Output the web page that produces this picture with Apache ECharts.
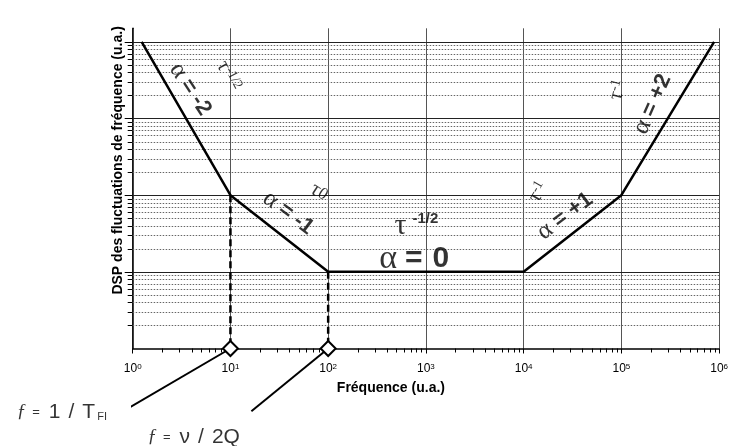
<!DOCTYPE html>
<html><head><meta charset="utf-8">
<script src="https://cdn.jsdelivr.net/npm/echarts@6/dist/echarts.min.js"></script>
<style>html,body{margin:0;padding:0;background:#fff}#c{width:731px;height:446px}</style>
</head><body><div id="c"></div>
<script>
// ---- data ----
const freq = [1.235, 10, 100, 10000, 100000, 889000];   // Fréquence (u.a.)
const dsp  = [10000, 100, 10, 10, 100, 10000];          // DSP (u.a.)
const cornerFreq = [10, 100];
const cornerDsp  = [100, 10];
const xExponents = [0, 1, 2, 3, 4, 5, 6];
const yExponents = [0, 1, 2, 3, 4];
const leaderEnds = [[0.802, 0.1523], [16.38, 0.1523]];
const X_MIN = 1, X_MAX = 1e6, Y_MIN = 1, Y_MAX = 15000;

// text annotations (data coordinates of text centres)
const notes = [
  {x: 3.9,    y: 2400,  rot: -57, txt: '{a|α}{b|=}{b2|-2}'},
  {x: 9.6,    y: 3600,  rot: -62, txt: '{t|τ}{s|-1/2}'},
  {x: 39.1,   y: 58.4,  rot: -37, txt: '{a|α}{b|=}{b2|-1}'},
  {x: 80.9,   y: 109.7, rot: -33, txt: '{t|τ}{t2|0}'},
  {x: 800,    y: 39.5,  rot: 0,   txt: '{T|τ}{sb|-1/2}'},
  {x: 760,    y: 14.6,  rot: 0,   txt: '{A|α}{B|=}{B2|0}'},
  {x: 26550,  y: 53.4,  rot: 37,  txt: '{a|α}{b|=}{b2|+1}'},
  {x: 14090,  y: 109.7, rot: 60,  txt: '{t|τ}{s|-1}'},
  {x: 209000, y: 1541,  rot: 66,  txt: '{a|α}{b|=}{b2|+2}'},
  {x: 92000,  y: 2345,  rot: 75,  txt: '{t|τ}{s|-1}'},
  {x: 0.1883, y: 0.1486, rot: 0,  txt: '{f|ƒ}{e|=}{n|1}{n|/}{n|T}{sub|FI}'},
  {x: 4.21,   y: 0.0702, rot: 0,  txt: '{f|ƒ}{e|=}{n|ν}{n|/}{n2|2Q}'}
];

const SANS = 'Liberation Sans, Arial, sans-serif';
const SERIF = 'Liberation Serif, Times New Roman, serif';
const rich = {
  a:  {fontFamily: SERIF, fontSize: 25, color: '#000', padding: [0, 6, 0, 0]},
  b:  {fontFamily: SANS, fontWeight: 'bold', fontSize: 22, color: '#000', padding: [0, 6, 0, 0]},
  b2: {fontFamily: SANS, fontWeight: 'bold', fontSize: 22, color: '#000'},
  A:  {fontFamily: SERIF, fontSize: 34, color: '#000', padding: [0, 8, 0, 0]},
  B:  {fontFamily: SANS, fontWeight: 'bold', fontSize: 30, color: '#000', padding: [0, 10, 0, 0]},
  B2: {fontFamily: SANS, fontWeight: 'bold', fontSize: 30, color: '#000'},
  t:  {fontFamily: SERIF, fontSize: 21, color: '#000'},
  t2: {fontFamily: SERIF, fontSize: 17, color: '#000'},
  s:  {fontFamily: SERIF, fontSize: 14, color: '#000', verticalAlign: 'top'},
  T:  {fontFamily: SERIF, fontSize: 30, color: '#000', padding: [0, 6, 0, 0]},
  sb: {fontFamily: SANS, fontWeight: 'bold', fontSize: 15, color: '#000', verticalAlign: 'top'},
  f:  {fontFamily: SERIF, fontStyle: 'italic', fontSize: 19, color: '#000', padding: [0, 6, 0, 0]},
  e:  {fontFamily: SANS, fontSize: 13, color: '#000', padding: [0, 9, 0, 0]},
  n:  {fontFamily: SANS, fontSize: 21, color: '#000', padding: [0, 8, 0, 0]},
  n2: {fontFamily: SANS, fontSize: 21, color: '#000'},
  sub:{fontFamily: SANS, fontSize: 11, color: '#000', verticalAlign: 'bottom', padding: [0, 0, 0, -6]}
};

// grid line values built from the axis decades
const hLines = [];
yExponents.forEach(e => {
  for (let m = 1; m <= 9; m++) {
    if (e === 0 && m === 1) continue;
    if (e === 4 && m > 1) break;
    hLines.push([X_MIN, m * Math.pow(10, e), m === 1 ? 1 : 0]);
  }
});
const xMinor = [];
xExponents.slice(0, -1).forEach(e => {
  for (let m = 2; m <= 9; m++) xMinor.push([m * Math.pow(10, e), Y_MIN]);
});

const chart = echarts.init(document.getElementById('c'), null, {renderer: 'canvas'});
chart.setOption({
  animation: false,
  backgroundColor: '#fff',
  grid: {left: 132.7, right: 9.3, top: 28.3, bottom: 97.5, containLabel: false},
  xAxis: {
    type: 'log', logBase: 10, min: X_MIN, max: X_MAX, interval: 1,
    name: 'Fréquence (u.a.)', nameLocation: 'middle', nameGap: 33,
    nameTextStyle: {fontFamily: SANS, fontWeight: 'bold', fontSize: 14, color: '#000', padding: [0, 70, 0, 0]},
    axisLine: {show: true, onZero: false, lineStyle: {color: '#000', width: 1.5}},
    axisTick: {show: true, length: 5, lineStyle: {color: '#000'}},
    axisLabel: {
      margin: 14, color: '#000',
      formatter: v => '{b|10}{s|' + Math.round(Math.log10(v)) + '}',
      rich: {
        b: {fontFamily: SANS, fontSize: 12, color: '#000'},
        s: {fontFamily: SANS, fontSize: 8, color: '#000', verticalAlign: 'top', padding: [0, 0, 4, 0]}
      }
    },
    splitLine: {show: true, lineStyle: {color: '#555', width: 1}}
  },
  yAxis: {
    type: 'log', logBase: 10, min: Y_MIN, max: Y_MAX,
    name: 'DSP des fluctuations de fréquence (u.a.)', nameLocation: 'middle', nameGap: 8,
    nameTextStyle: {fontFamily: SANS, fontWeight: 'bold', fontSize: 14, color: '#000', padding: [0, 0, 0, 56]},
    axisLine: {show: true, onZero: false, lineStyle: {color: '#000', width: 1.5}},
    axisTick: {show: false},
    axisLabel: {show: false},
    splitLine: {show: false}
  },
  series: [
    {
      type: 'custom', coordinateSystem: 'cartesian2d', clip: false, silent: true, z: 1,
      encode: {x: 0, y: 1},
      data: hLines,
      renderItem: (params, api) => {
        const v = api.value(1), major = api.value(2) === 1;
        const a = api.coord([X_MIN, v]), b = api.coord([X_MAX, v]);
        const y = Math.round(a[1]) + 0.5;
        return {type: 'group', children: [
          {type: 'line', shape: {x1: a[0] - (major ? 8 : 5), y1: y, x2: a[0], y2: y}, style: {stroke: '#000', lineWidth: 1}},
          {type: 'line', shape: {x1: a[0], y1: y, x2: b[0], y2: y},
           style: {stroke: major ? '#222' : '#666', lineWidth: 1, lineDash: major ? null : [1.5, 1.5]}}
        ]};
      }
    },
    {
      type: 'custom', coordinateSystem: 'cartesian2d', clip: false, silent: true, z: 1,
      encode: {x: 0, y: 1},
      data: xMinor,
      renderItem: (params, api) => {
        const p = api.coord([api.value(0), api.value(1)]);
        const x = Math.round(p[0]) + 0.5;
        return {type: 'line', shape: {x1: x, y1: p[1], x2: x, y2: p[1] + 4}, style: {stroke: '#000', lineWidth: 1}};
      }
    },
    {
      type: 'line', name: 'DSP', z: 5, clip: false, symbol: 'none',
      data: freq.map((f, i) => [f, dsp[i]]),
      lineStyle: {color: '#000', width: 2.5}
    },
    ...cornerFreq.map((f, i) => ({
      type: 'line', z: 4, clip: false, symbol: 'none',
      data: [[f, cornerDsp[i]], [f, Y_MIN]],
      lineStyle: {color: '#000', width: 2.5, type: [7, 4]}
    })),
    ...cornerFreq.map((f, i) => ({
      type: 'line', z: 4, clip: false, symbol: 'none',
      data: [[f, Y_MIN], leaderEnds[i]],
      lineStyle: {color: '#000', width: 2}
    })),
    {
      type: 'scatter', z: 6, clip: false, symbol: 'diamond', symbolSize: 15,
      data: cornerFreq.map(f => [f, Y_MIN]),
      itemStyle: {color: '#fff', borderColor: '#000', borderWidth: 2, opacity: 1}
    },
    {
      type: 'scatter', z: 7, clip: false, symbolSize: 1, silent: true,
      itemStyle: {color: 'rgba(0,0,0,0)'},
      data: notes.map(n => ({
        value: [n.x, n.y],
        label: {show: true, position: 'inside', rotate: n.rot, formatter: n.txt, rich: rich}
      }))
    }
  ]
});
</script></body></html>
